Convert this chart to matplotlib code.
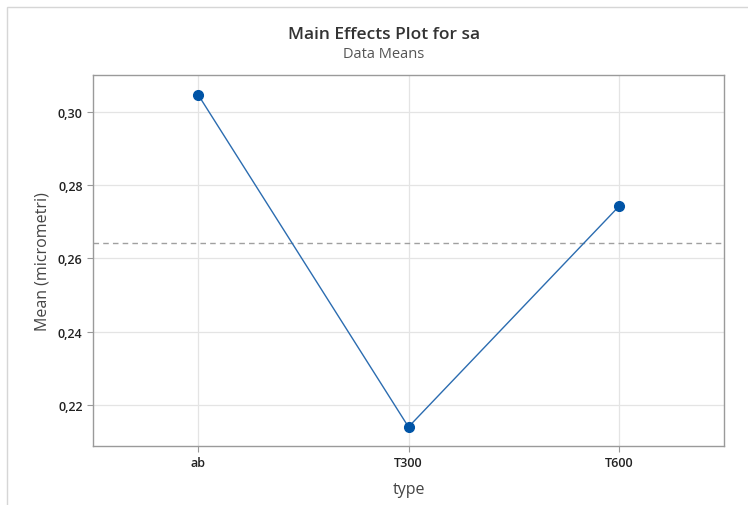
import numpy as np
import matplotlib
matplotlib.use("Agg")
import matplotlib.pyplot as plt
from matplotlib.patches import Rectangle

plt.rcParams['font.family'] = ['Open Sans', 'DejaVu Sans']

levels = ["ab", "T300", "T600"]
means = [0.3047, 0.2140, 0.2742]
yticks = [0.22, 0.24, 0.26, 0.28, 0.30]
ytick_labels = ["0,22", "0,24", "0,26", "0,28", "0,30"]

fig = plt.figure(figsize=(7.48, 5.06), dpi=100)
# outer frame of the exported graph
fig.patches.append(Rectangle((7 / 748, -0.01), 1.0, (506 - 8) / 506 + 0.01,
                             transform=fig.transFigure, fill=False,
                             edgecolor='#d6d6d6', linewidth=1.0))

ax = fig.add_axes([93 / 748, 1 - 447 / 506, (724 - 93) / 748, (447 - 76) / 506])

x = np.arange(len(levels))
ax.plot(x, means, color='#2b6cb0', linewidth=1.0, zorder=3)
ax.plot(x, means, 'o', color='#0054a6', markersize=7, zorder=4)
ax.axhline(np.mean(means), color='#a0a0a0', linestyle=(0, (4, 3)), linewidth=1.0, zorder=2)

ax.set_xlim(-0.5, 2.5)
ax.set_ylim(0.2088, 0.3101)
ax.set_xticks(x)
ax.set_xticklabels(levels)
ax.set_yticks(yticks)
ax.set_yticklabels(ytick_labels)

ax.grid(True, color='#e4e4e4', linewidth=0.9, zorder=0)
ax.set_axisbelow(True)
for s in ax.spines.values():
    s.set_color('#9a9a9a')
    s.set_linewidth(1.0)
ax.tick_params(axis='both', colors='#9a9a9a', length=4, width=0.8,
               labelcolor='#222222', labelsize=9)
for lab in ax.get_xticklabels() + ax.get_yticklabels():
    lab.set_fontweight('semibold')

ax.set_xlabel("type", fontsize=11.5, color='#444444', labelpad=8)
ax.set_ylabel("Mean (micrometri)", fontsize=11.5, color='#444444', labelpad=5)

fig.text(384 / 748, 1 - 35 / 506, "Main Effects Plot for sa", ha='center', va='center',
         fontsize=12.5, fontweight='semibold', color='#333333')
fig.text(384 / 748, 1 - 55 / 506, "Data Means", ha='center', va='center',
         fontsize=10.5, color='#555555')

fig.savefig("out.png", dpi=100, facecolor='white')
